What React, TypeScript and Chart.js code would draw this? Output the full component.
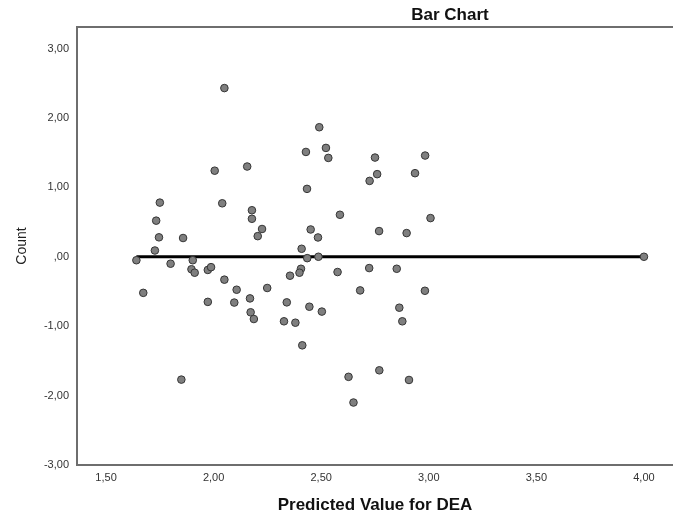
import React, { useEffect, useRef } from "react";
import { Chart, registerables } from "chart.js";

Chart.register(...registerables);

const xValues = [
  2.05, 2.005, 1.75, 2.04, 1.733, 1.746, 1.858, 1.727, 1.641, 1.8,
  1.903, 1.897, 1.912, 1.973, 1.988, 2.05, 2.107, 1.673, 1.973, 2.096,
  1.85, 2.491, 2.429, 2.522, 2.533, 2.156, 2.434, 2.178, 2.178, 2.587,
  2.225, 2.205, 2.451, 2.485, 2.409, 2.435, 2.487, 2.406, 2.399, 2.355,
  2.576, 2.249, 2.169, 2.172, 2.187, 2.34, 2.445, 2.503, 2.327, 2.38,
  2.412, 2.627, 2.75, 2.983, 2.76, 2.725, 2.936, 3.008, 2.769, 2.897,
  2.723, 2.851, 2.681, 2.982, 2.863, 2.877, 2.77, 2.908, 2.65, 4.0,
];
const yValues = [
  2.43, 1.24, 0.78, 0.77, 0.52, 0.28, 0.27, 0.09, -0.05, -0.1,
  -0.05, -0.18, -0.23, -0.19, -0.15, -0.33, -0.475, -0.52, -0.65, -0.66,
  -1.77, 1.866, 1.51, 1.568, 1.424, 1.3, 0.978, 0.67, 0.547, 0.605,
  0.4, 0.297, 0.393, 0.278, 0.115, -0.02, 0.0, -0.173, -0.23, -0.273,
  -0.22, -0.45, -0.6, -0.8, -0.897, -0.657, -0.72, -0.79, -0.93, -0.95,
  -1.276, -1.73, 1.429, 1.458, 1.19, 1.093, 1.204, 0.557, 0.37, 0.341,
  -0.163, -0.173, -0.485, -0.49, -0.734, -0.93, -1.636, -1.775, -2.1, 0.0,
];
const lineX = [1.641, 4.0];
const lineY = [0, 0];
const xTicks = [1.5, 2.0, 2.5, 3.0, 3.5, 4.0];
const yTicks = [-3, -2, -1, 0, 1, 2, 3];

const chartTitle = "Bar Chart";
const xTitle = "Predicted Value for DEA";
const yTitle = "Count";

const FONT = "'Liberation Sans', Arial, sans-serif";

const fmt = (v: number) => {
  let s = Math.abs(v).toFixed(2).replace(".", ",");
  if (s.startsWith("0,")) s = s.slice(1);
  return (v < -1e-9 ? "-" : "") + s;
};

const framePlugin = {
  id: "frameAndTitle",
  afterDraw(chart: any) {
    const { ctx, chartArea } = chart;
    const { left, right, top, bottom } = chartArea;
    ctx.save();
    ctx.strokeStyle = "#6e6e6e";
    ctx.lineWidth = 2;
    ctx.beginPath();
    ctx.moveTo(right + 2, top);
    ctx.lineTo(left, top);
    ctx.lineTo(left, bottom);
    ctx.lineTo(right + 2, bottom);
    ctx.stroke();
    ctx.fillStyle = "#111";
    ctx.font = `bold 17px ${FONT}`;
    ctx.textAlign = "center";
    ctx.textBaseline = "middle";
    ctx.fillText(chartTitle, 450, 15);
    ctx.restore();
  },
};

export default function App() {
  const ref = useRef<HTMLCanvasElement | null>(null);

  useEffect(() => {
    if (!ref.current) return;
    const chart = new Chart(ref.current, {
      type: "scatter",
      data: {
        datasets: [
          {
            type: "line",
            data: lineX.map((x, i) => ({ x, y: lineY[i] })),
            borderColor: "#000",
            borderWidth: 3,
            pointRadius: 0,
            fill: false,
            order: 2,
          } as any,
          {
            type: "scatter",
            data: xValues.map((x, i) => ({ x, y: yValues[i] })),
            backgroundColor: "#7f7f7f",
            borderColor: "#353535",
            borderWidth: 1,
            pointRadius: 3.8,
            order: 1,
          },
        ],
      },
      options: {
        animation: false,
        responsive: false,
        maintainAspectRatio: false,
        layout: { autoPadding: false, padding: { top: 27, left: 0, right: 0, bottom: 0 } },
        plugins: {
          legend: { display: false },
          title: { display: false },
          tooltip: { enabled: false },
        },
        scales: {
          x: {
            type: "linear",
            min: 1.365,
            max: 4.135,
            grid: { display: false, drawTicks: false },
            border: { display: false },
            afterBuildTicks: (axis: any) => {
              axis.ticks = xTicks.map((v) => ({ value: v }));
            },
            afterFit: (axis: any) => {
              axis.height = 55;
            },
            ticks: {
              autoSkip: false,
              maxRotation: 0,
              padding: 6,
              color: "#333",
              font: { family: FONT, size: 11 },
              callback: (v: any) => fmt(Number(v)),
            },
            title: {
              display: true,
              text: xTitle,
              color: "#111",
              font: { family: FONT, size: 17, weight: "bold" },
              padding: { top: 0, bottom: 4 },
            },
          },
          y: {
            type: "linear",
            min: -3,
            max: 3.31,
            grid: { display: false, drawTicks: false },
            border: { display: false },
            afterBuildTicks: (axis: any) => {
              axis.ticks = yTicks.map((v) => ({ value: v }));
            },
            afterFit: (axis: any) => {
              axis.width = 77;
            },
            ticks: {
              autoSkip: false,
              padding: 8,
              color: "#333",
              font: { family: FONT, size: 11 },
              callback: (v: any) => fmt(Number(v)),
            },
            title: {
              display: true,
              text: yTitle,
              color: "#222",
              font: { family: FONT, size: 14 },
              padding: { top: 14, bottom: 0 },
            },
          },
        },
      },
      plugins: [framePlugin],
    });
    return () => chart.destroy();
  }, []);

  return (
    <div
      style={{
        position: "fixed",
        left: 0,
        top: 0,
        width: 673,
        height: 520,
        overflow: "hidden",
        background: "#fff",
      }}
    >
      <canvas ref={ref} width={673} height={520} style={{ display: "block" }} />
    </div>
  );
}
